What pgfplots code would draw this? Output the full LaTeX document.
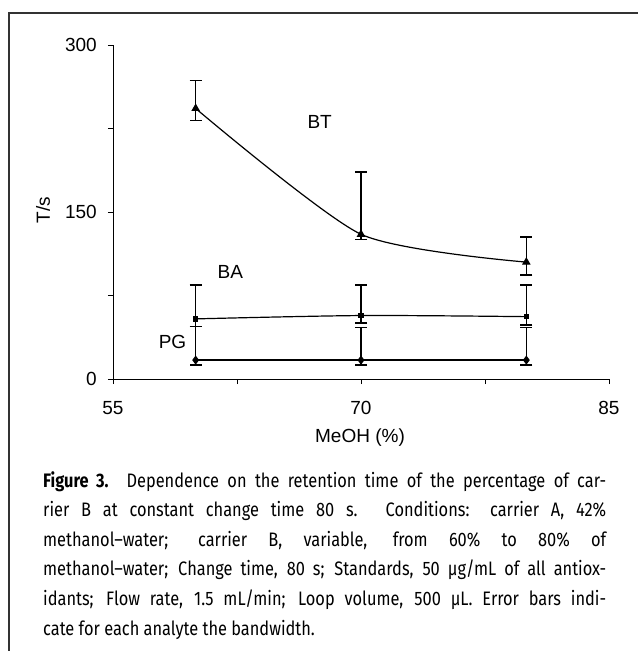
\documentclass[border=0pt]{standalone}
\usepackage{fontspec}
\setmainfont{Liberation Sans}
\newfontfamily\capfont[FakeStretch=0.84]{Fira Sans}
\usepackage{pgfplots}
\pgfplotsset{compat=1.18}

\begin{document}
\begin{tikzpicture}[x=1pt,y=1pt]
\path[use as bounding box] (0,0) rectangle (638,-651);
\draw[line width=1.2pt, black!80] (9,-651) -- (9,-13) -- (638,-13);
\begin{axis}[
  at={(113pt,-379pt)}, anchor=south west,
  scale only axis, width=496pt, height=334pt,
  xmin=55, xmax=85, ymin=0, ymax=300,
  axis x line*=bottom, axis y line*=left,
  xtick={55,70,85}, minor xtick={62.5,77.5},
  ytick={0,150,300}, minor ytick={75,225},
  tick align=outside, major tick length=5pt, minor tick length=5pt,
  every tick/.style={black, line width=0.9pt},
  axis line style={line width=0.9pt},
  tick label style={font=\fontsize{19}{19}\selectfont, inner sep=0pt},
  /pgf/number format/assume math mode=true,
  xticklabel style={yshift=-17pt},
  yticklabel style={xshift=-11pt},
  xlabel={MeOH (\%)}, ylabel={T/s},
  label style={font=\fontsize{19}{19}\selectfont},
  xlabel style={at={(axis description cs:0.498,-0.174)}, anchor=center},
  ylabel style={at={(axis description cs:-0.141,0.506)}, anchor=center},
  clip=false,
]
% BT
\addplot[black, line width=1.2pt, smooth, tension=0.4, mark=triangle*, mark size=3.8pt,
  mark options={solid, fill=black},
  error bars/.cd, y dir=both, y explicit,
  error bar style={black, line width=1.2pt},
  error mark options={rotate=90, black, line width=1.2pt, mark size=6pt}]
  coordinates {
  (60,243) += (0,25) -= (0,11)
  (70,130) += (0,56) -= (0,5)
  (80,105) += (0,22.5) -= (0,11.6)
  };
% BA
\addplot[black, line width=1.2pt, smooth, mark=square*, mark size=2.2pt,
  mark options={solid, fill=black},
  error bars/.cd, y dir=both, y explicit,
  error bar style={black, line width=1.2pt},
  error mark options={rotate=90, black, line width=1.2pt, mark size=6pt}]
  coordinates {
  (60,54) += (0,30.4) -= (0,7)
  (70,57) += (0,27.4) -= (0,6.7)
  (80,56) += (0,28.4) -= (0,7.5)
  };
% PG
\addplot[black, line width=1.2pt, mark=diamond*, mark size=3.6pt,
  mark options={solid, fill=black},
  error bars/.cd, y dir=both, y explicit,
  error bar style={black, line width=1.2pt},
  error mark options={rotate=90, black, line width=1.2pt, mark size=6pt}]
  coordinates {
  (60,17) += (0,30) -= (0,4.4)
  (70,17) += (0,29) -= (0,4.4)
  (80,17) += (0,29) -= (0,4.4)
  };
\node[font=\fontsize{19}{19}\selectfont] at (axis cs:67.5,231) {BT};
\node[font=\fontsize{19}{19}\selectfont] at (axis cs:62.1,96) {BA};
\node[font=\fontsize{19}{19}\selectfont] at (axis cs:58.6,33) {PG};
\end{axis}
\begin{scope}[every node/.style={anchor=base west, inner sep=0pt, font=\capfont\fontsize{19.5}{19.5}\selectfont}]
\node at (43,-487) {\makebox[563pt][s]{\textbf{Figure 3.} Dependence on the retention time of the percentage of car-}};
\node at (43,-516.6) {\makebox[563pt][s]{rier B at constant change time 80 s. Conditions: carrier A, 42\%}};
\node at (43,-546.2) {\makebox[563pt][s]{methanol–water; carrier B, variable, from 60\% to 80\% of}};
\node at (43,-575.8) {\makebox[563pt][s]{methanol–water; Change time, 80 s; Standards, 50 µg/mL of all antiox-}};
\node at (43,-605.4) {\makebox[563pt][s]{idants; Flow rate, 1.5 mL/min; Loop volume, 500 µL. Error bars indi-}};
\node at (43,-635) {cate for each analyte the bandwidth.};
\end{scope}
\end{tikzpicture}
\end{document}
